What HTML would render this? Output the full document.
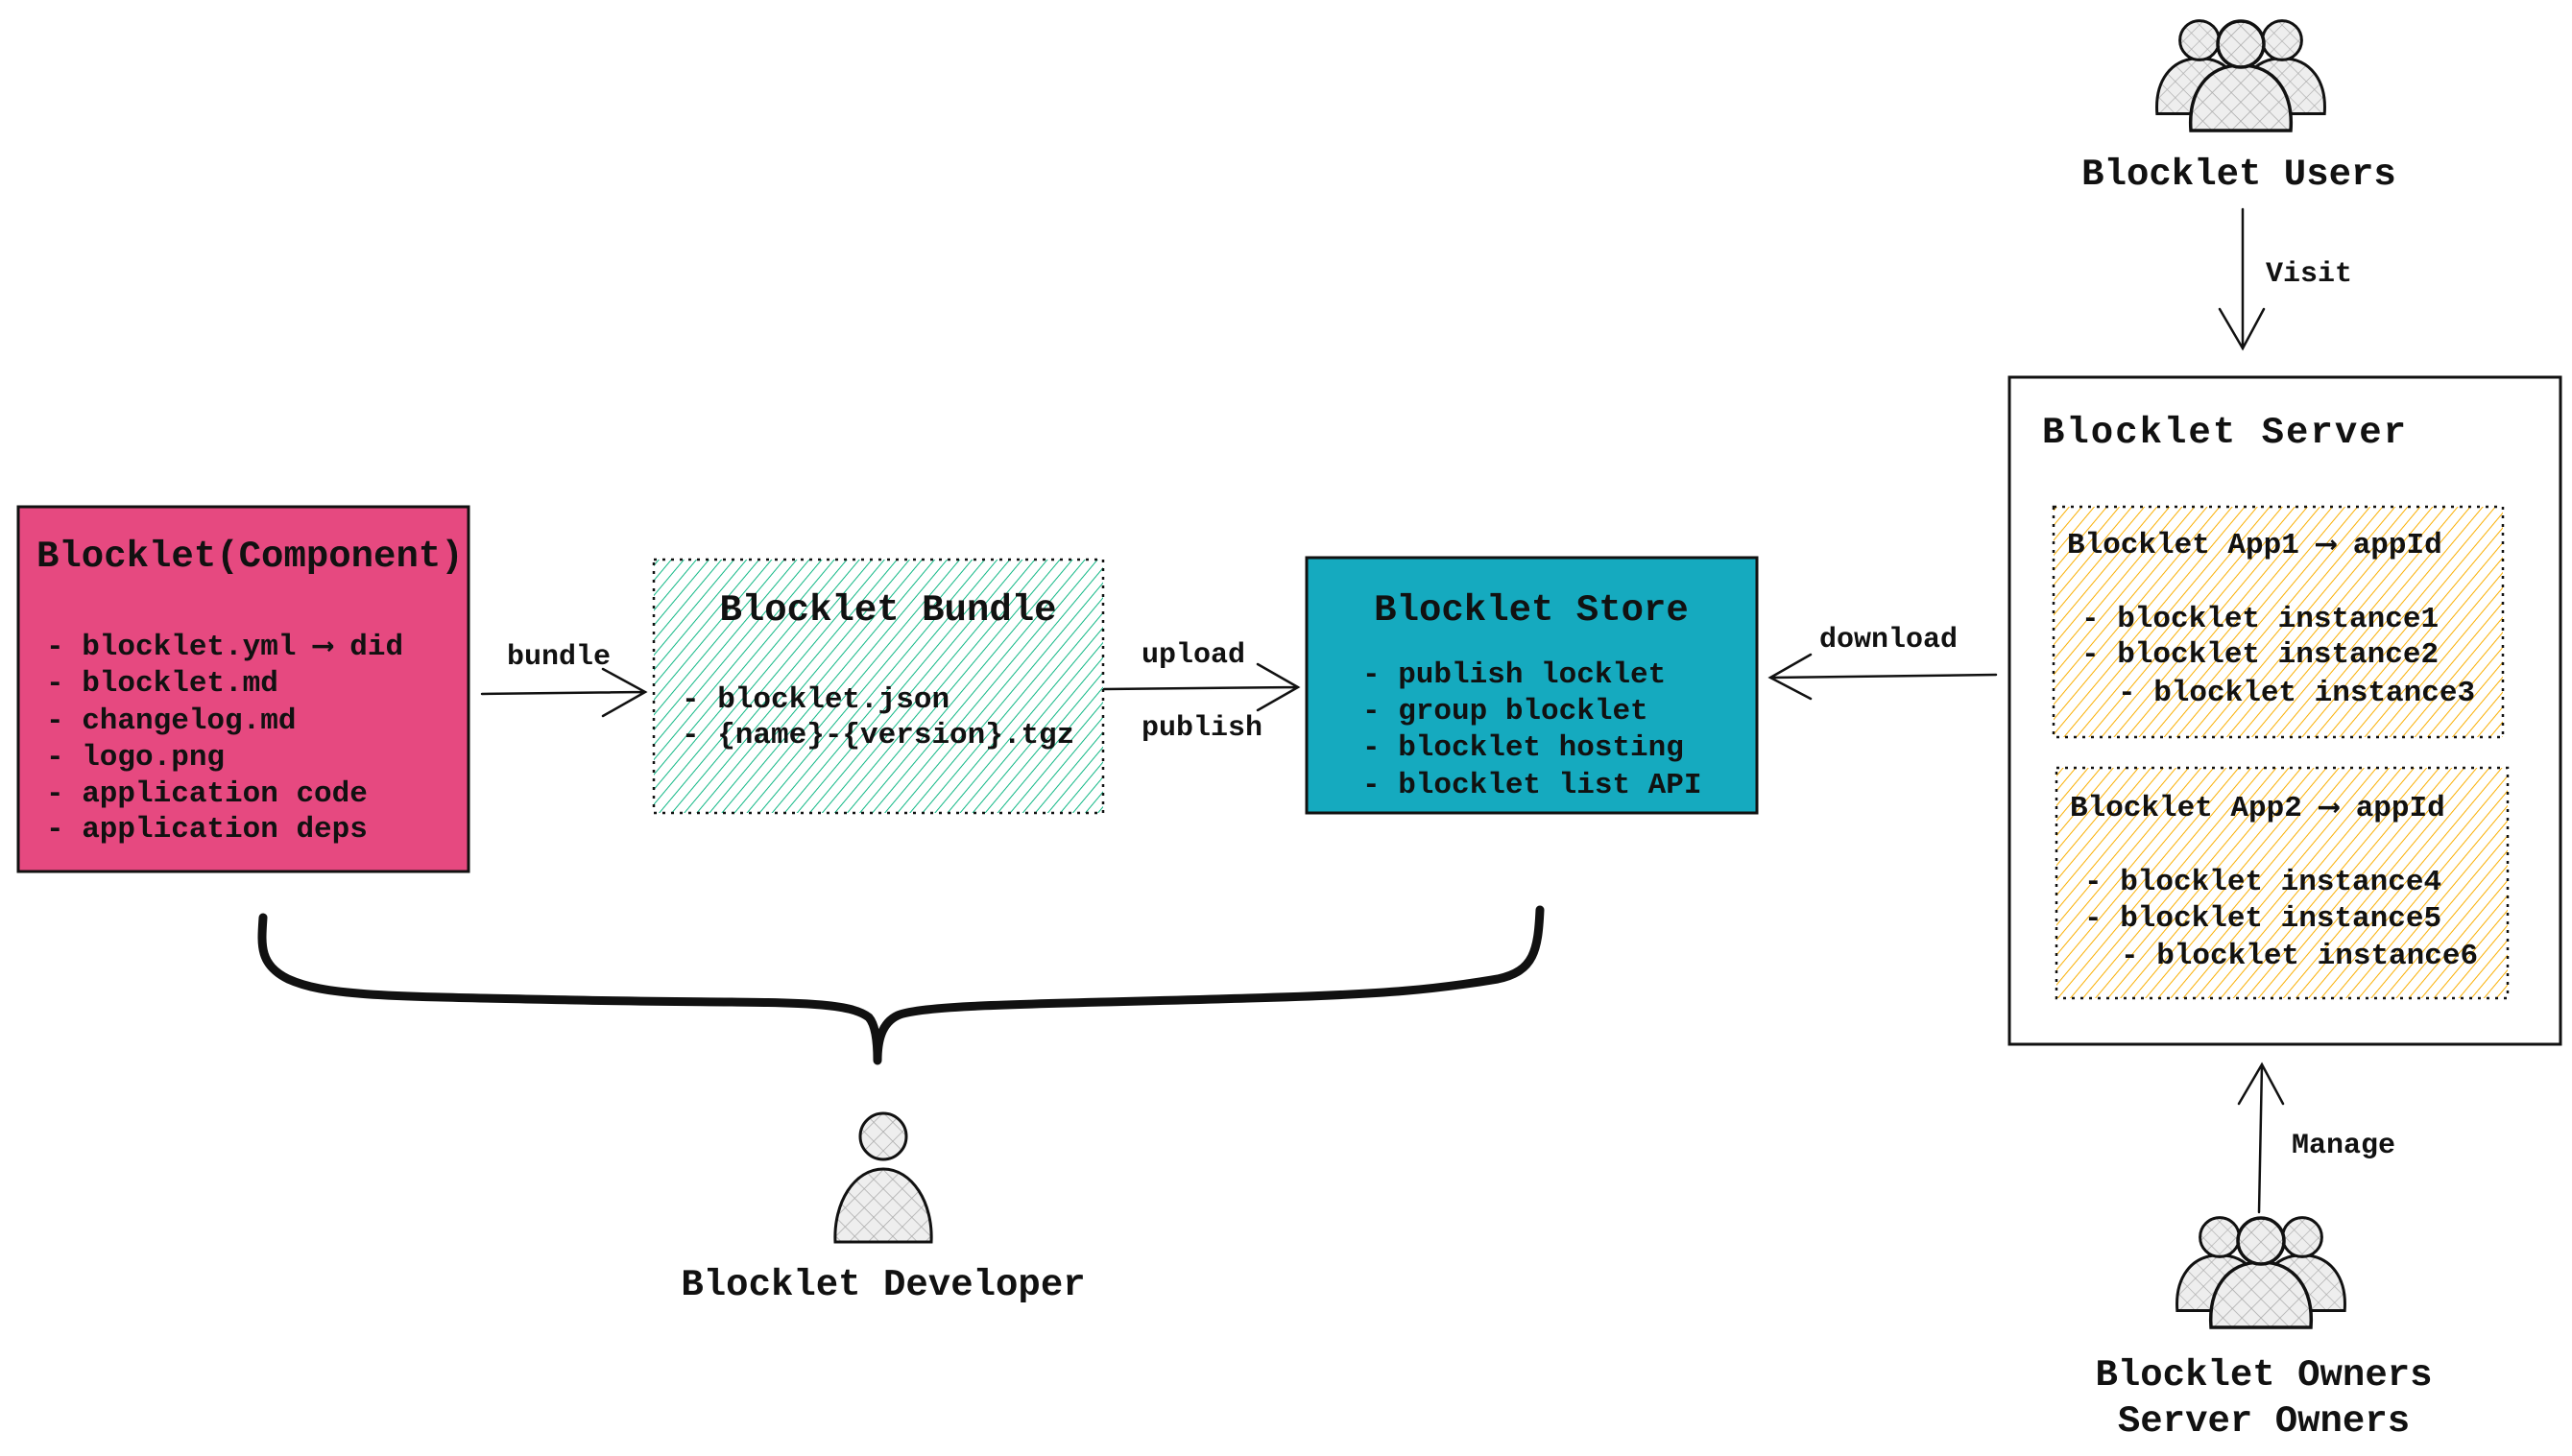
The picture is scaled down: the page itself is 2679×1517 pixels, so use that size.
<!DOCTYPE html>
<html><head><meta charset="utf-8"><style>
html,body{margin:0;padding:0;background:#fff;}
svg{display:block;}
text{font-family:"Liberation Mono",monospace;fill:#111;}
</style></head><body>
<svg width="2679" height="1517" viewBox="0 0 2679 1517" xmlns="http://www.w3.org/2000/svg">
<defs>
<pattern id="hg" width="10" height="10" patternUnits="userSpaceOnUse" patternTransform="rotate(40)">
<line x1="0" y1="0" x2="0" y2="10" stroke="#12b886" stroke-width="2"/></pattern>
<pattern id="ho" width="10" height="10" patternUnits="userSpaceOnUse" patternTransform="rotate(40)">
<line x1="0" y1="0" x2="0" y2="10" stroke="#fab005" stroke-width="2"/></pattern>
<pattern id="hx" width="14" height="14" patternUnits="userSpaceOnUse" patternTransform="rotate(45)">
<line x1="0" y1="0" x2="0" y2="14" stroke="#aaa" stroke-width="1.5"/><line x1="0" y1="0" x2="14" y2="0" stroke="#aaa" stroke-width="1.5"/></pattern>
<g id="person">
<path d="M-52,50 C-55,10 -35,-18 0,-18 C35,-18 55,10 52,50 Z" fill="#eee" stroke="none"/>
<path d="M-52,50 C-55,10 -35,-18 0,-18 C35,-18 55,10 52,50 Z" fill="url(#hx)" stroke="#111" stroke-width="3.5"/>
<circle cx="0" cy="-40" r="24" fill="#eee"/>
<circle cx="0" cy="-40" r="24" fill="url(#hx)" stroke="#111" stroke-width="3.5"/>
</g>
<g id="group">
<use href="#person" transform="translate(-43,-5) scale(0.85)"/>
<use href="#person" transform="translate(43,-5) scale(0.85)"/>
<use href="#person" transform="translate(0,5)"/>
</g>
</defs>

<rect x="19" y="528" width="469" height="380" fill="#e64980" stroke="#111" stroke-width="3"/>
<text x="38" y="590" font-size="39" font-weight="bold">Blocklet(Component)</text>
<g font-size="31" font-weight="bold">
<text x="48" y="682">- blocklet.yml ⟶ did</text>
<text x="48" y="720">- blocklet.md</text>
<text x="48" y="759">- changelog.md</text>
<text x="48" y="797">- logo.png</text>
<text x="48" y="835">- application code</text>
<text x="48" y="872">- application deps</text>
</g>

<rect x="681" y="583" width="468" height="264" fill="url(#hg)" stroke="#111" stroke-width="2.5" stroke-dasharray="3,6"/>
<text x="925" y="646" font-size="39" font-weight="bold" text-anchor="middle">Blocklet Bundle</text>
<g font-size="31" font-weight="bold">
<text x="710" y="737">- blocklet.json</text>
<text x="710" y="774">- {name}-{version}.tgz</text>
</g>

<rect x="1361" y="581" width="469" height="266" fill="#15aabf" stroke="#111" stroke-width="3"/>
<text x="1595" y="646" font-size="39" font-weight="bold" text-anchor="middle">Blocklet Store</text>
<g font-size="31" font-weight="bold">
<text x="1419" y="711">- publish locklet</text>
<text x="1419" y="749">- group blocklet</text>
<text x="1419" y="787">- blocklet hosting</text>
<text x="1419" y="826">- blocklet list API</text>
</g>

<g stroke="#111" stroke-width="2.5" fill="none" stroke-linecap="round">
<path d="M502,723 L672,721 M628,697 L672,721 L628,746"/>
<path d="M1150,718 L1352,716 M1310,692 L1352,716 L1310,740"/>
<path d="M2079,703 L1844,706 M1886,682 L1844,706 L1886,728"/>
<path d="M2336,218 L2336,363 M2312,322 L2336,363 L2358,322"/>
<path d="M2353,1263 L2356,1109 M2332,1150 L2356,1109 L2378,1150"/>
</g>
<g font-size="30" font-weight="bold">
<text x="528" y="692">bundle</text>
<text x="1189" y="690">upload</text>
<text x="1189" y="766">publish</text>
<text x="1895" y="674">download</text>
<text x="2360" y="293">Visit</text>
<text x="2387" y="1201">Manage</text>
</g>

<rect x="2093" y="393" width="574" height="695" fill="#fff" stroke="#111" stroke-width="3"/>
<text x="2127" y="461" font-size="39" font-weight="bold" letter-spacing="2">Blocklet Server</text>
<rect x="2139" y="528" width="468" height="240" fill="url(#ho)" stroke="#111" stroke-width="2.5" stroke-dasharray="3,6"/>
<rect x="2142" y="800" width="470" height="240" fill="url(#ho)" stroke="#111" stroke-width="2.5" stroke-dasharray="3,6"/>
<g font-size="31" font-weight="bold">
<text x="2153" y="576">Blocklet App1 ⟶ appId</text>
<text x="2168" y="653">- blocklet instance1</text>
<text x="2168" y="690">- blocklet instance2</text>
<text x="2206" y="730">- blocklet instance3</text>
<text x="2156" y="850">Blocklet App2 ⟶ appId</text>
<text x="2171" y="927">- blocklet instance4</text>
<text x="2171" y="965">- blocklet instance5</text>
<text x="2209" y="1004">- blocklet instance6</text>
</g>

<use href="#group" transform="translate(2334,81) scale(1.0)"/>
<text x="2332" y="192" font-size="39" font-weight="bold" text-anchor="middle">Blocklet Users</text>
<use href="#group" transform="translate(2355,1328) scale(1.0)"/>
<text x="2358" y="1443" font-size="39" font-weight="bold" text-anchor="middle">Blocklet Owners</text>
<text x="2358" y="1491" font-size="39" font-weight="bold" text-anchor="middle">Server Owners</text>

<path d="M274,956 C272,985 270,1005 300,1020 C340,1038 400,1038 600,1042 C800,1046 880,1040 905,1060 C912,1068 914,1085 914,1105 C914,1085 918,1066 935,1058 C960,1046 1100,1046 1300,1040 C1450,1036 1500,1030 1560,1020 C1598,1012 1602,990 1604,948" fill="none" stroke="#111" stroke-width="9" stroke-linecap="round" stroke-linejoin="round"/>

<g transform="translate(920,1238)">
<path d="M-50,56 C-52,15 -30,-20 0,-20 C30,-20 52,15 50,56 Z" fill="#eee"/>
<path d="M-50,56 C-52,15 -30,-20 0,-20 C30,-20 52,15 50,56 Z" fill="url(#hx)" stroke="#111" stroke-width="3"/>
<circle cx="0" cy="-54" r="24" fill="#eee"/>
<circle cx="0" cy="-54" r="24" fill="url(#hx)" stroke="#111" stroke-width="3"/>
</g>
<text x="920" y="1349" font-size="39" font-weight="bold" text-anchor="middle">Blocklet Developer</text>
</svg>
</body></html>
